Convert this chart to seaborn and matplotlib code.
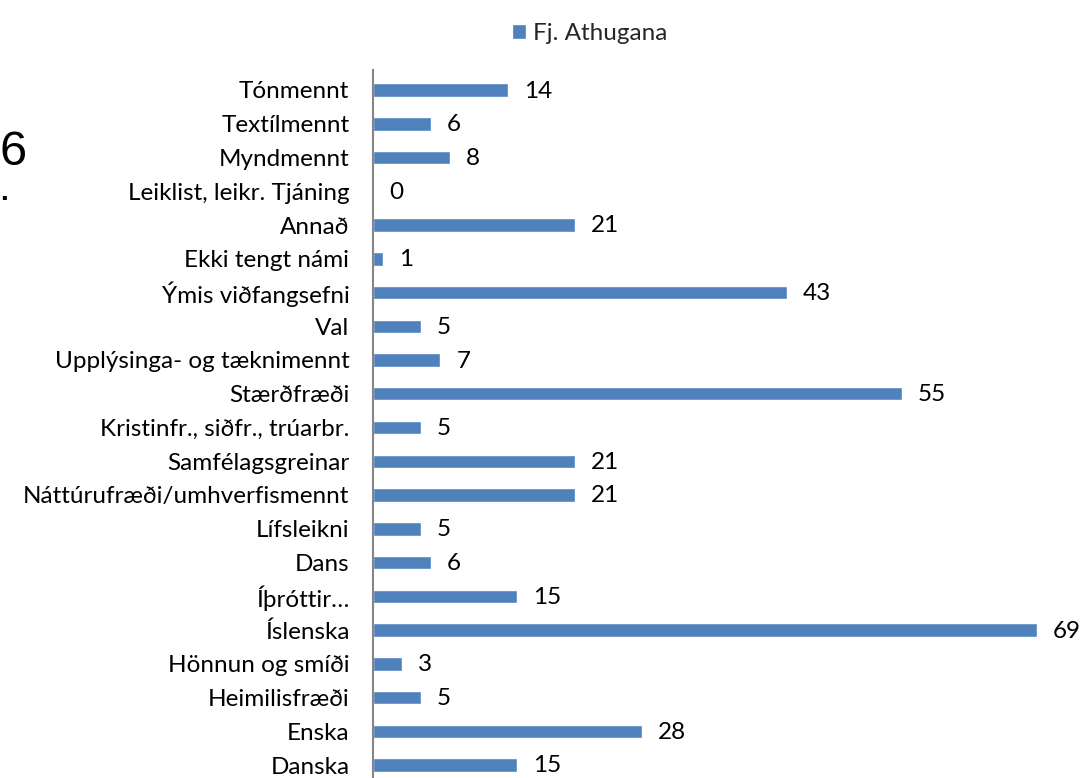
import matplotlib
matplotlib.use("Agg")
import matplotlib.pyplot as plt
import seaborn as sns
import pandas as pd

categories = ["Tónmennt", "Textílmennt", "Myndmennt", "Leiklist, leikr. Tjáning", "Annað",
              "Ekki tengt námi", "Ýmis viðfangsefni", "Val", "Upplýsinga- og tæknimennt",
              "Stærðfræði", "Kristinfr., siðfr., trúarbr.", "Samfélagsgreinar",
              "Náttúrufræði/umhverfismennt", "Lífsleikni", "Dans", "Íþróttir…", "Íslenska",
              "Hönnun og smíði", "Heimilisfræði", "Enska", "Danska"]
values = [14, 6, 8, 0, 21, 1, 43, 5, 7, 55, 5, 21, 21, 5, 6, 15, 69, 3, 5, 28, 15]
series_name = "Fj. Athugana"

sns.set_theme(style="white")
plt.rcParams['font.family'] = ['Lato', 'DejaVu Sans']

df = pd.DataFrame({"cat": categories, "val": values})

fig = plt.figure(figsize=(10.86, 7.78), dpi=100)
W, H = 1086, 778
ax_left, ax_right = 373 / W, 1086 / W
ax_top = 1 - 70 / H
ax = fig.add_axes([ax_left, 0, ax_right - ax_left, ax_top])

color = "#4F81BD"
sns.barplot(data=df, x="val", y="cat", orient="h", color=color, width=0.4,
            saturation=1, ax=ax, label=series_name)

px_per_unit = 9.62
ax.set_xlim(0, (1086 - 373) / px_per_unit)
spacing = 33.75
ax.set_ylim((778 - 90) / spacing, -(90 - 70) / spacing)

fs = 17.5
for i, v in enumerate(values):
    ax.annotate(str(v), (v, i), xytext=(16, -1), textcoords="offset pixels",
                va="center", ha="left", fontsize=fs, color="#000000")

ax.set_xlabel("")
ax.set_ylabel("")
ax.set_xticks([])
ax.tick_params(axis="y", length=0, pad=17, labelsize=fs, labelcolor="#000000")
for s in ["top", "right", "bottom"]:
    ax.spines[s].set_visible(False)
ax.spines["left"].set_color("#868686")
ax.spines["left"].set_linewidth(1.5)

leg = ax.legend(loc="upper center", bbox_to_anchor=(590 / W, 1 - 1 / H),
                bbox_transform=fig.transFigure, frameon=False, fontsize=fs,
                handlelength=0.55, handleheight=0.55, handletextpad=0.3)

fig.text(0.0, 1 - 165 / H, "6", fontsize=35, va="baseline", ha="left",
         color="#000000", family="Liberation Sans")
fig.text(0.0, 1 - 200 / H, ".", fontsize=20, va="baseline", ha="left",
         color="#000000", family="Liberation Sans", fontweight="bold")

fig.savefig("out.png", dpi=100)
